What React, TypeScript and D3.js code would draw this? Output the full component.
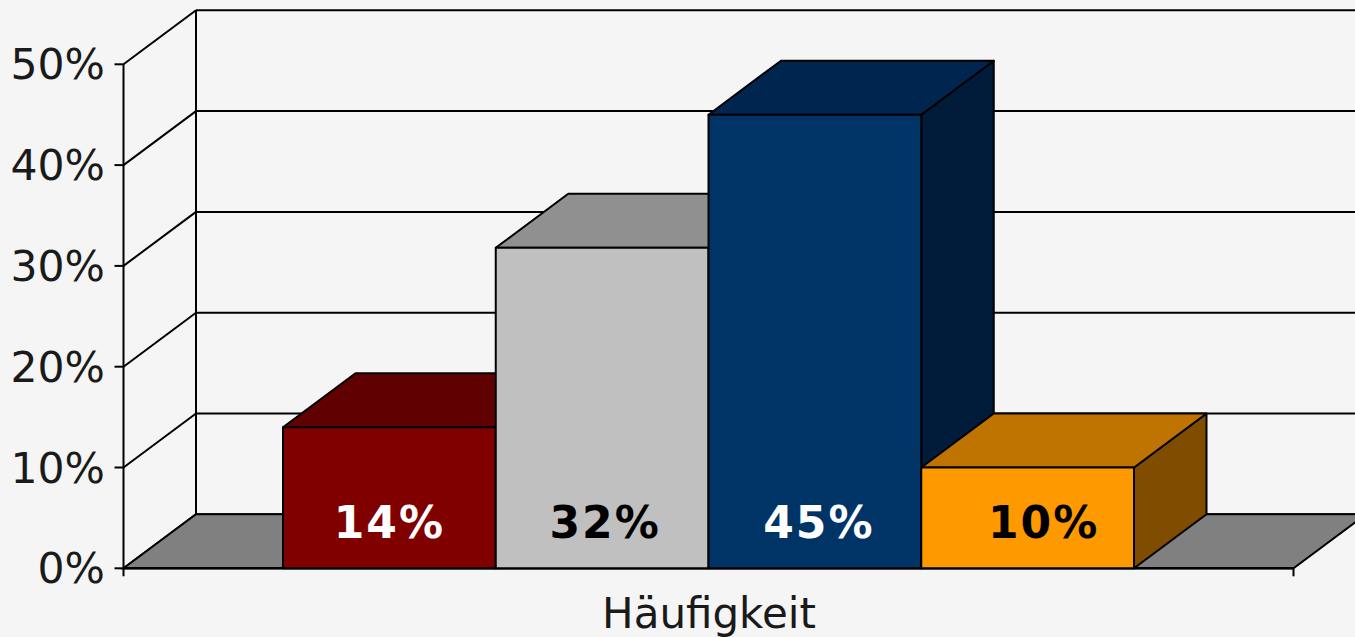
import React from "react";
import * as d3 from "d3";

const categories = ["A", "B", "C", "D"];
const values = [14, 31.8, 45, 10];
const valueLabels = ["14%", "32%", "45%", "10%"];
const axisTicks = [0, 10, 20, 30, 40, 50];
const axisTitle = "Häufigkeit";
const frontColors = ["#800000", "#c0c0c0", "#003366", "#ff9900"];
const topColors = ["#600000", "#909090", "#002650", "#bf7300"];
const sideColors = ["#400000", "#606060", "#001c3a", "#804d00"];
const labelColors = ["#ffffff", "#000000", "#ffffff", "#000000"];
const labelShift = [0, 3, 4, 16];

const W = 1355, H = 637;
const x0 = 123.5, x1 = 1293.5;
const dx = 72.5, dy = -54;
const y = d3.scaleLinear().domain([0, 50]).range([568.3, 64.3]);
const groupLeft = 283, groupRight = 1134;
const xb = d3.scaleBand().domain(categories).range([groupLeft, groupRight]);
const ink = "#000";
const sw = 2;

const pts = (p: number[][]) => d3.line()(p as [number, number][]) + "Z";

export default function App() {
  const y0 = y(0);
  const floor = pts([[x0, y0], [x0 + dx, y0 + dy], [x1 + dx, y0 + dy], [x1, y0]]);
  return (
    <svg width={W} height={H} style={{ position: "absolute", left: 0, top: 0, background: "#f5f5f5" }}>
      {axisTicks.map((t) => (
        <g key={t} stroke={ink} strokeWidth={sw} fill="none">
          <line x1={x0} y1={y(t)} x2={x0 + dx} y2={y(t) + dy} />
          <line x1={x0 + dx} y1={y(t) + dy} x2={W} y2={y(t) + dy} />
          <line x1={x0 - 9} y1={y(t)} x2={x0} y2={y(t)} />
        </g>
      ))}
      <line x1={x0} y1={y(50)} x2={x0} y2={y0 + 8} stroke={ink} strokeWidth={sw} />
      <line x1={x0 + dx} y1={y(50) + dy} x2={x0 + dx} y2={y0 + dy} stroke={ink} strokeWidth={sw} />
      <path d={floor} fill="#808080" stroke={ink} strokeWidth={sw} />
      <line x1={x0} y1={y0} x2={x1} y2={y0} stroke={ink} strokeWidth={2.4} />
      <line x1={x1} y1={y0} x2={x1} y2={y0 + 8} stroke={ink} strokeWidth={sw} />

      {categories.map((c, i) => {
        const l = xb(c)!;
        const r = l + xb.bandwidth();
        const t = y(values[i]);
        return (
          <g key={c} stroke={ink} strokeWidth={sw} strokeLinejoin="round">
            <path d={pts([[r, t], [r + dx, t + dy], [r + dx, y0 + dy], [r, y0]])} fill={sideColors[i]} />
            <path d={pts([[l, t], [l + dx, t + dy], [r + dx, t + dy], [r, t]])} fill={topColors[i]} />
            <rect x={l} y={t} width={r - l} height={y0 - t} fill={frontColors[i]} />
          </g>
        );
      })}

      {categories.map((c, i) => (
        <text
          key={c}
          x={xb(c)! + xb.bandwidth() / 2 + labelShift[i]}
          y={538}
          textAnchor="middle"
          fontFamily="'DejaVu Sans', sans-serif"
          fontWeight="bold"
          fontSize={44}
          letterSpacing={2}
          fill={labelColors[i]}
        >
          {valueLabels[i]}
        </text>
      ))}

      {axisTicks.map((t) => (
        <text
          key={t}
          x={105}
          y={y(t) + 15}
          textAnchor="end"
          fontFamily="'DejaVu Sans', sans-serif"
          fontSize={42.5}
          fill="#1a1a1a"
        >
          {t}%
        </text>
      ))}
      <text
        x={709}
        y={628}
        textAnchor="middle"
        fontFamily="'DejaVu Sans', sans-serif"
        fontSize={42}
        fill="#1a1a1a"
      >
        {axisTitle}
      </text>
    </svg>
  );
}
